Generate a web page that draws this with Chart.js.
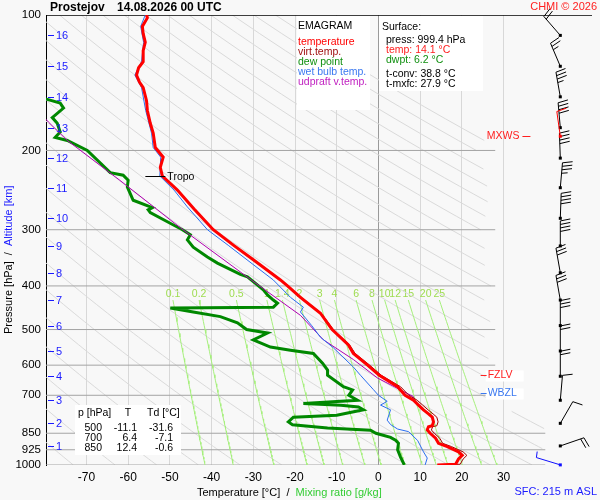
<!DOCTYPE html>
<html>
<head>
<meta charset="utf-8">
<script src="https://cdn.jsdelivr.net/npm/chart.js@4.4.1/dist/chart.umd.min.js"></script>
<style>
  html, body { margin: 0; padding: 0; background: #f8f8f8; }
</style>
</head>
<body>
<canvas id="canvas" width="600" height="500"></canvas>
<script>
const FONT = '"Liberation Sans", Arial, sans-serif';

// axes
const pressureTicks = [100, 200, 300, 400, 500, 600, 700, 850, 925, 1000];
const tempTicks = [-70, -60, -50, -40, -30, -20, -10, 0, 10, 20, 30];
const altKm = [1, 2, 3, 4, 5, 6, 7, 8, 9, 10, 11, 12, 13, 14, 15, 16];
const altP = [907, 808, 718, 635, 558, 490, 430, 374, 326, 283, 242, 208, 178, 152, 130, 111];
const mixRatios = [0.1, 0.2, 0.5, 1, 1.4, 2, 3, 4, 6, 8, 10, 12, 15, 20, 25];

// temperature (red)
const tempP = [100, 101.5, 106, 110, 115, 120, 127, 131, 136, 141, 145, 155, 163, 174, 183, 197, 207, 218, 228, 245,
  270, 300, 325, 350, 388, 400, 424, 460, 500, 541, 565, 600, 632, 670, 700, 718, 736, 754, 770, 783, 802, 818, 822,
  836, 850, 872, 895, 910, 935, 952, 970, 996, 999.4];
const tempT = [-55.6, -55.4, -56.6, -56.4, -55.9, -56.4, -56.4, -57.5, -58.0, -57.3, -56.4, -55.6, -55.4, -54.7, -54.0, -53.5, -51.6, -52.3, -51.8, -48.2,
  -44.2, -39.6, -34.7, -30.0, -23.5, -21.8, -18.7, -13.9, -11.1, -7.2, -6.0, -2.6, 0.2, 4.6, 6.4, 8.4, 9.6, 10.8, 12.0, 12.9, 13.2, 12.9, 12.0,
  11.7, 12.4, 13.7, 14.4, 16.5, 19.2, 20.1, 19.2, 18.5, 14.1];

// virtual temperature (dark red), same levels as the temperature
const virtT = [-55.6, -55.4, -56.6, -56.4, -55.9, -56.4, -56.4, -57.5, -58.0, -57.3, -56.4, -55.6, -55.4, -54.7, -54.0, -53.5, -51.6, -52.3, -51.8, -48.2,
  -44.1, -39.5, -34.6, -29.9, -23.4, -21.7, -18.5, -13.7, -10.8, -6.9, -5.6, -2.1, 0.7, 5.3, 7.3, 9.3, 10.6, 11.9, 13.1, 14.0, 14.3, 14.0, 13.0,
  12.7, 13.4, 14.7, 15.4, 17.5, 20.3, 21.2, 20.3, 19.6, 15.0];

// dew point (green)
const dewP = [150, 154, 157, 161, 169, 174, 182, 187, 190, 200, 224, 227, 233, 241, 258, 268, 271, 275, 288, 300,
  308, 316, 328, 345, 356, 377, 382, 408, 419, 430, 437, 446, 448, 457, 468, 483, 500, 509, 527, 547,
  556, 565, 594, 615, 632, 670, 681, 700, 718, 730, 737, 743, 754, 775, 783, 802, 814, 828, 837, 850,
  868, 881, 895, 925, 960, 999.4];
const dewT = [-85, -79.4, -76.3, -75.5, -78.2, -77.0, -76.3, -77.5, -74.6, -69.8, -64.3, -61.2, -60.0, -60.2, -58.8, -54.2, -55.2, -54.7, -50.6, -47.0,
  -45.1, -45.8, -44.4, -41.0, -38.6, -33.1, -31.4, -27.6, -26.6, -25.2, -24.2, -25.2, -49.9, -44.4, -37.9, -33.8, -31.6, -26.6, -30.0, -25.9,
  -21.1, -15.6, -13.4, -12.2, -12.2, -8.4, -6.2, -7.1, -5.0, -18.0, -9.0, -4.8, -3.6, -10.0, -20.4, -21.6, -20.6, -12.2, -1.9, -0.6,
  2.9, 4.1, 4.8, 4.6, 5.3, 6.2];

// wet bulb temperature (blue)
const wetP = [100, 106, 115, 127, 136, 145, 163, 183, 197, 207, 228, 245, 267, 300, 325, 350, 388, 424, 446, 457,
  490, 520, 549, 606, 632, 680, 700, 722, 736, 754, 795, 813, 832, 843, 882, 935, 965, 999.4];
const wetT = [-55.9, -57.0, -56.3, -56.8, -58.4, -56.8, -55.8, -54.4, -54.0, -52.2, -52.4, -49.0, -45.8, -41.0, -36.0, -31.5, -25.2, -21.1, -18.0, -18.7,
  -16.0, -13.9, -10.8, -6.0, -4.3, -1.2, 0.0, 2.1, 0.5, 2.9, 2.1, 2.9, 4.6, 7.2, 9.4, 10.8, 11.7, 11.2];

// updraft virtual temperature (magenta)
const parcelP = [160, 173, 190, 233, 297, 388, 465, 527, 583, 641, 705, 720];
const parcelT = [-82.5, -79.1, -74.6, -62.0, -47.5, -30.5, -18.7, -13.2, -6.0, -0.2, 8.4, 8.6];

// wind profile (surface + every km), direction in degrees, speed in knots
const windP = [999.4, 907, 808, 718, 635, 558, 490, 430, 374, 326, 283, 242, 208, 178, 152, 130, 111];
const windDir = [287, 71, 30, 5, 0, 0, 0, 350, 350, 0, 2, 5, 358, 355, 350, 337, 319];
const windKt = [5, 20, 10, 10, 20, 20, 30, 30, 30, 40, 40, 35, 40, 40, 35, 25, 20];
const mxwsP = 186, mxwsDir = 352, mxwsKt = 10;

// special levels
const tropoP = 228, tropoT = -51.8;
const levelNames = ['FZLV', 'WBZL'];
const levelP = [632, 693];
const levelColors = ['#ff2020', '#3a78f0'];

// table + surface block
const tableP = [500, 700, 850];
const tableT = ['-11.1', '6.4', '12.4'];
const tableTd = ['-31.6', '-7.1', '-0.6'];
const sfcPress = 999.4, sfcTemp = 14.1, sfcDwpt = 6.2, tConv = 38.8, tMxfc = 27.9, sfcAlt = 215;

const pts = (ps, ts) => ps.map((p, i) => ({ x: ts[i], y: p }));

// background: isobars, dry adiabats, mixing ratio lines
function adiabat(theta) {
  const out = [];
  for (let p = 100; p <= 1000; p += 10) {
    const t = theta * Math.pow(p / 1000, 0.286) - 273.15;
    const lim = p >= 760 ? 40 : 27;
    out.push(t <= lim ? { x: t, y: p } : { x: null, y: null });
  }
  return out;
}
function tdFromMix(w, p) {
  const e = w * p / (622 + w);
  const l = Math.log(e / 6.112);
  return 243.5 * l / (17.67 - l);
}
function mixLine(w) {
  const out = [];
  for (let p = 430; p <= 1000; p += 10) out.push({ x: tdFromMix(w, p), y: p });
  return out;
}

const line = (data, color, width, extra) => Object.assign({
  data, borderColor: color, borderWidth: width, showLine: true, pointRadius: 0, fill: false
}, extra || {});

const datasets = [
  line(pts(tempP, tempT), '#ff0000', 3),
  line(pts(tempP, virtT), '#a00000', 1),
  line(pts(wetP, wetT), '#2a6ef0', 1),
  line(pts(parcelP, parcelT), '#b000b0', 1),
  line(pts(dewP, dewT), '#008800', 3),
];
mixRatios.forEach(w => datasets.push(line(mixLine(w), '#a6f07c', 1)));
pressureTicks.forEach(p => {
  const end = p === 100 ? 51.2 : (p >= 850 ? 40 : 28);
  datasets.push(line([{ x: -80, y: p }, { x: end, y: p }], p === 100 ? '#000000' : '#a4a4a4', p === 100 ? 1.5 : 1));
});
for (let th = 190; th <= 480; th += 10) datasets.push(line(adiabat(th), '#dadada', 1, { spanGaps: false }));

function drawBarb(ctx, x, y, dir, kt, color) {
  const a = dir * Math.PI / 180;
  const ux = Math.sin(a), uy = -Math.cos(a);
  const px = -uy, py = ux;
  const L = 25, step = 3.5;
  ctx.save();
  ctx.strokeStyle = color;
  ctx.fillStyle = color;
  ctx.lineWidth = 1;
  ctx.beginPath();
  ctx.moveTo(x, y);
  ctx.lineTo(x + ux * L, y + uy * L);
  let pos = L, rest = Math.round(kt / 5) * 5;
  while (rest >= 10) {
    const bx = x + ux * pos, by = y + uy * pos;
    ctx.moveTo(bx, by);
    ctx.lineTo(bx + px * 10 + ux * 2, by + py * 10 + uy * 2);
    pos -= step;
    rest -= 10;
  }
  if (rest >= 5) {
    const bx = x + ux * pos, by = y + uy * pos;
    ctx.moveTo(bx, by);
    ctx.lineTo(bx + px * 6 + ux * 1, by + py * 6 + uy * 1);
  }
  ctx.stroke();
  ctx.fillRect(x - 1.5, y - 1.5, 3, 3);
  ctx.restore();
}

function text(ctx, s, x, y, color, size, align, bold) {
  ctx.font = (bold ? 'bold ' : '') + size + 'px ' + FONT;
  ctx.fillStyle = color;
  ctx.textAlign = align || 'left';
  ctx.textBaseline = 'middle';
  ctx.fillText(s, x, y);
  return ctx.measureText(s).width;
}

const emagramDecor = {
  id: 'emagramDecor',
  beforeDraw(chart) {
    const ctx = chart.ctx;
    ctx.save();
    ctx.fillStyle = '#f8f8f8';
    ctx.fillRect(0, 0, chart.width, chart.height);
    ctx.restore();
  },
  beforeDatasetsDraw(chart) {
    const ctx = chart.ctx, xs = chart.scales.x, ys = chart.scales.y;
    ctx.save();
    const y = ys.getPixelForValue(417);
    mixRatios.forEach(w => {
      text(ctx, String(w), xs.getPixelForValue(tdFromMix(w, 430)), y, '#9edc50', 10.5, 'center');
    });
    ctx.restore();
  },
  afterDatasetsDraw(chart) {
    const ctx = chart.ctx, xs = chart.scales.x, ys = chart.scales.y;
    ctx.save();

    // white boxes
    ctx.fillStyle = '#ffffff';
    ctx.fillRect(297, 16, 73, 94);
    ctx.fillRect(379, 16, 104, 75);
    ctx.fillRect(75, 405, 106, 50);

    // legend
    text(ctx, 'EMAGRAM', 298, 26, '#000000', 10.5);
    const legendItems = ['temperature', 'virt.temp.', 'dew point', 'wet bulb temp.', 'udpraft v.temp.'];
    const legendColors = ['#ff0000', '#a01010', '#109010', '#3a78f0', '#c020c0'];
    legendItems.forEach((s, i) => text(ctx, s, 298, 42 + i * 10, legendColors[i], 10.5));

    // surface block
    text(ctx, 'Surface:', 382, 27, '#000000', 10.5);
    text(ctx, 'press: ' + sfcPress.toFixed(1) + ' hPa', 386, 40, '#000000', 10.5);
    text(ctx, 'temp: ' + sfcTemp.toFixed(1) + ' °C', 386, 50, '#ff2020', 10.5);
    text(ctx, 'dwpt: ' + sfcDwpt.toFixed(1) + ' °C', 386, 60, '#109010', 10.5);
    text(ctx, 't-conv: ' + tConv.toFixed(1) + ' °C', 386, 74, '#000000', 10.5);
    text(ctx, 't-mxfc: ' + tMxfc.toFixed(1) + ' °C', 386, 84, '#000000', 10.5);

    // table
    text(ctx, 'p [hPa]', 78, 413, '#000000', 10.5);
    text(ctx, 'T', 128, 413, '#000000', 10.5, 'center');
    text(ctx, 'Td [°C]', 147, 413, '#000000', 10.5);
    tableP.forEach((p, i) => {
      const y = 428 + i * 10;
      text(ctx, String(p), 102, y, '#000000', 10.5, 'right');
      text(ctx, tableT[i], 137, y, '#000000', 10.5, 'right');
      text(ctx, tableTd[i], 173, y, '#000000', 10.5, 'right');
    });

    // altitude ticks
    ctx.strokeStyle = '#1a1aff';
    ctx.lineWidth = 1;
    altKm.forEach((km, i) => {
      const y = Math.round(ys.getPixelForValue(altP[i])) + 0.5;
      ctx.beginPath();
      ctx.moveTo(xs.left + 2, y);
      ctx.lineTo(xs.left + 8, y);
      ctx.stroke();
      text(ctx, String(km), xs.left + 10, y, '#1a1aff', 11);
    });

    // tropopause
    const ty = Math.round(ys.getPixelForValue(tropoP)) + 0.5;
    const tx = xs.getPixelForValue(tropoT);
    ctx.strokeStyle = '#000000';
    ctx.beginPath();
    ctx.moveTo(tx - 17, ty);
    ctx.lineTo(tx + 3, ty);
    ctx.stroke();
    text(ctx, 'Tropo', tx + 5, ty + 1, '#000000', 10.5);

    // freezing / wet-bulb zero levels
    const lx = xs.getPixelForValue(24.5);
    levelNames.forEach((name, i) => {
      const y = Math.round(ys.getPixelForValue(levelP[i])) + 0.5;
      ctx.fillStyle = '#ffffff';
      ctx.fillRect(lx + 5, y - 5, 38, 11);
      ctx.strokeStyle = levelColors[i];
      ctx.beginPath();
      ctx.moveTo(lx, y);
      ctx.lineTo(lx + 6, y);
      ctx.stroke();
      text(ctx, name, lx + 7, y, levelColors[i], 10.5);
    });

    // max wind level
    const my = Math.round(ys.getPixelForValue(mxwsP)) + 0.5;
    const mx = xs.getPixelForValue(33.8);
    text(ctx, 'MXWS', mx, my, '#ff2020', 10.5, 'right');
    ctx.strokeStyle = '#ff2020';
    ctx.beginPath();
    ctx.moveTo(mx + 3, my);
    ctx.lineTo(mx + 11, my);
    ctx.stroke();

    // wind barbs
    const wx = xs.getPixelForValue(43.6);
    windP.forEach((p, i) => {
      drawBarb(ctx, wx, ys.getPixelForValue(p), windDir[i], windKt[i], i === 0 ? '#1010ff' : '#000000');
    });
    drawBarb(ctx, wx, ys.getPixelForValue(mxwsP), mxwsDir, mxwsKt, '#ff0000');

    // header
    text(ctx, 'Prostejov', 50, 8, '#000000', 12, 'left', true);
    text(ctx, '14.08.2026 00 UTC', 117, 8, '#000000', 12, 'left', true);
    text(ctx, 'CHMI © 2026', 597, 7, '#ff2020', 11, 'right');

    // axis titles
    let x = 197;
    x += text(ctx, 'Temperature [°C]', x, 493, '#000000', 11);
    x += text(ctx, '  /  ', x, 493, '#000000', 11);
    text(ctx, 'Mixing ratio [g/kg]', x, 493, '#33cc33', 11);
    text(ctx, 'SFC: ' + sfcAlt + ' m ASL', 597, 492, '#1a1aff', 11, 'right');

    ctx.translate(9, 334);
    ctx.rotate(-Math.PI / 2);
    let yx = 0;
    yx += text(ctx, 'Pressure [hPa]', yx, 0, '#000000', 11);
    yx += text(ctx, '  /  ', yx, 0, '#000000', 11);
    text(ctx, 'Altitude [km]', yx, 0, '#1a1aff', 11);
    ctx.restore();
  }
};

new Chart(document.getElementById('canvas'), {
  type: 'scatter',
  data: { datasets },
  options: {
    responsive: false,
    animation: false,
    devicePixelRatio: 1,
    events: [],
    layout: { padding: { top: 15, right: 8, left: 0, bottom: 0 } },
    elements: { line: { tension: 0 }, point: { radius: 0 } },
    plugins: { legend: { display: false }, tooltip: { enabled: false } },
    scales: {
      x: {
        type: 'linear',
        min: -79.7,
        max: 51.2,
        border: { display: false },
        grid: {
          drawTicks: false,
          color: (c) => (c.tick && c.tick.value === 0 ? '#9a9a9a' : '#d8d8d8'),
        },
        ticks: { color: '#000', font: { family: FONT, size: 12 }, padding: 5, autoSkip: false, maxRotation: 0 },
        afterBuildTicks: (s) => { s.ticks = tempTicks.map(v => ({ value: v })); },
        afterFit: (s) => { s.height = 35; },
      },
      y: {
        type: 'logarithmic',
        reverse: true,
        min: 100,
        max: 1000,
        border: { display: true, color: '#000', width: 1 },
        grid: { display: false, drawTicks: false },
        ticks: { color: '#000', font: { family: FONT, size: 11.5 }, padding: 5, autoSkip: false, callback: (v) => String(v) },
        afterBuildTicks: (s) => { s.ticks = pressureTicks.map(v => ({ value: v })); },
        afterFit: (s) => { s.width = 46; },
      },
    },
  },
  plugins: [emagramDecor],
});
</script>
</body>
</html>
